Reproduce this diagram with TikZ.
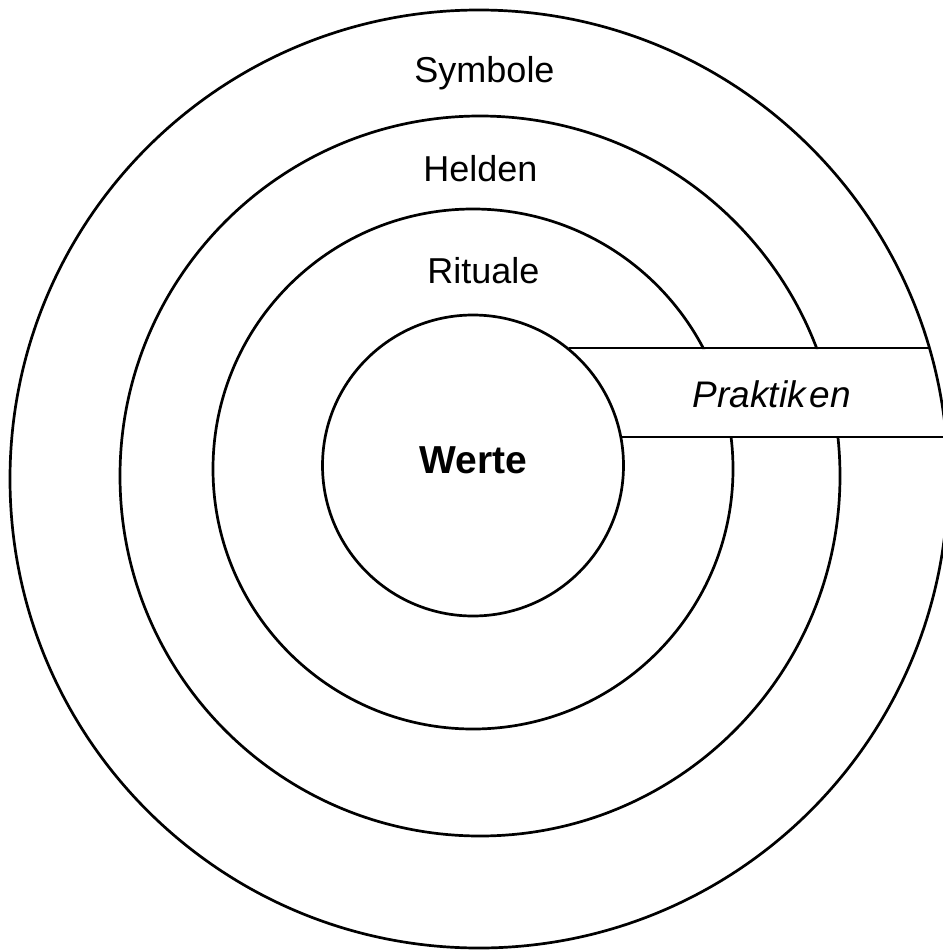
\documentclass[tikz,border=0pt]{standalone}
\usepackage{fontspec}
\setmainfont{Liberation Sans}
\begin{document}
\begin{tikzpicture}[x=1pt,y=-1pt,
  ring/.style={line width=2.7pt},
  lbl/.style={font=\fontsize{36}{40}\selectfont, inner sep=0pt, anchor=base}]
\useasboundingbox (0,0) rectangle (942,950);
% inner circle (complete)
\draw[ring] (473,465.5) circle[radius=150.5];
% outer circle (complete)
\draw[ring] (479,479) circle[radius=469];
% middle rings, interrupted by the Praktiken band
\begin{scope}[even odd rule]
  \clip (-10,-10) rectangle (960,960) (640,349) rectangle (960,436);
  \draw[ring] (473,469) circle[radius=260];
  \draw[ring] (480,476) circle[radius=360];
\end{scope}
% band boundaries
\coordinate (t1) at (569,348);
\coordinate (t2) at (929,348);
\coordinate (b1) at (622,437);
\coordinate (b2) at (945,437);
\draw[ring] (t1) -- (t2);
\draw[ring] (b1) -- (b2);
% labels
\node[lbl] (sym) at (484.5,82) {Symbole};
\node[lbl] (hel) at (480.5,181) {Helden};
\node[lbl] (rit) at (483.5,283) {Rituale};
\node[lbl, font=\fontsize{39}{42}\selectfont\bfseries] (wer) at (473.5,473) {Werte};
\node[lbl, font=\fontsize{37}{40}\selectfont\itshape] (pra) at (772,407) {Praktik\kern4pt en};
\end{tikzpicture}
\end{document}
